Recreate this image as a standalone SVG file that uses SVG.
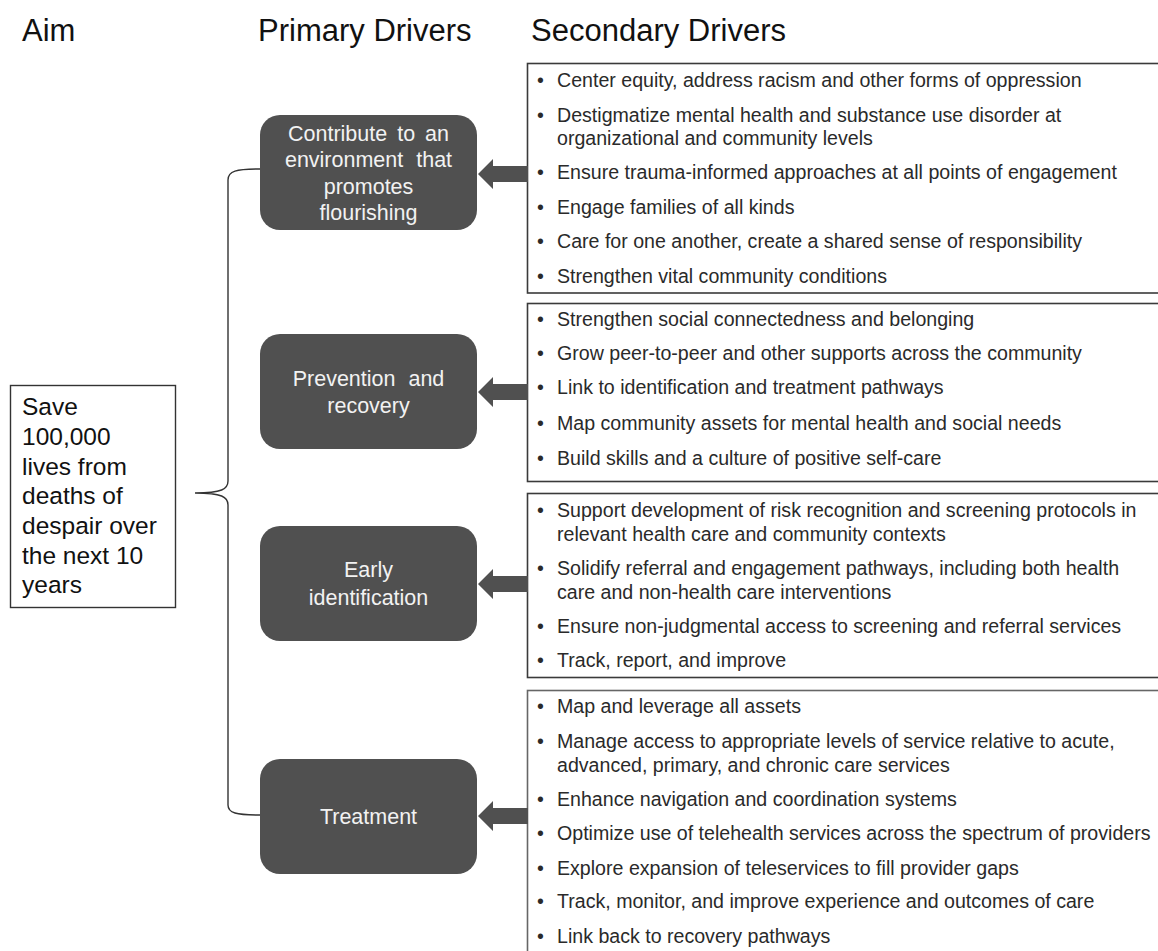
<svg xmlns="http://www.w3.org/2000/svg" width="1158" height="951" viewBox="0 0 1158 951">
  <style>
    .hdr { font-family: "Liberation Sans", Arial, sans-serif; font-size: 31px; fill: #111; }
    .aim { font-family: "Liberation Sans", Arial, sans-serif; font-size: 24.5px; fill: #111; }
    .pd-box { fill: #505050; }
    .pd-txt { font-family: "Liberation Sans", Arial, sans-serif; font-size: 21.5px; fill: #f2f2f2; text-anchor: middle; }
    .sd-box { fill: #fff; stroke: #3a3a3a; stroke-width: 1.6; }
    .sd-txt { font-family: "Liberation Sans", Arial, sans-serif; font-size: 19.6px; fill: #2a2a2a; }
    .bul { font-family: "Liberation Sans", Arial, sans-serif; font-size: 19.6px; fill: #2a2a2a; }
    .arrow { fill: #505050; }
    .brace { fill: none; stroke: #333; stroke-width: 1.4; }
  </style>
  <defs>
    <!-- thick block arrow pointing left, tip at origin -->
    <path id="blockArrow" class="arrow" d="M0,0 L15,-15 L15,-8 L50,-8 L50,8 L15,8 L15,15 Z"/>
  </defs>

  <rect width="1158" height="951" fill="#fff"/>

  <!-- column headers -->
  <g id="headers">
    <text class="hdr" x="22" y="41">Aim</text>
    <text class="hdr" x="258" y="41">Primary Drivers</text>
    <text class="hdr" x="531" y="41">Secondary Drivers</text>
  </g>

  <!-- aim -->
  <g id="aim">
    <rect x="10.5" y="385.5" width="165" height="222" fill="#fff" stroke="#333" stroke-width="1.4"/>
    <text class="aim" x="22" y="415">Save</text>
    <text class="aim" x="22" y="445">100,000</text>
    <text class="aim" x="22" y="475">lives from</text>
    <text class="aim" x="22" y="504">deaths of</text>
    <text class="aim" x="22" y="534">despair over</text>
    <text class="aim" x="22" y="564">the next 10</text>
    <text class="aim" x="22" y="593">years</text>
  </g>

  <!-- primary drivers -->
  <g id="pd-environment">
    <rect class="pd-box" x="260" y="115" width="217" height="115" rx="20"/>
    <text class="pd-txt" x="368.5" y="140.5" word-spacing="4">Contribute to an</text>
    <text class="pd-txt" x="368.5" y="167" word-spacing="7">environment that</text>
    <text class="pd-txt" x="368.5" y="193.5">promotes</text>
    <text class="pd-txt" x="368.5" y="220">flourishing</text>
  </g>
  <g id="pd-prevention">
    <rect class="pd-box" x="260" y="334" width="217" height="115" rx="20"/>
    <text class="pd-txt" x="368.5" y="386" word-spacing="7">Prevention and</text>
    <text class="pd-txt" x="368.5" y="413">recovery</text>
  </g>
  <g id="pd-early">
    <rect class="pd-box" x="260" y="526" width="217" height="115" rx="20"/>
    <text class="pd-txt" x="368.5" y="577">Early</text>
    <text class="pd-txt" x="368.5" y="605">identification</text>
  </g>
  <g id="pd-treatment">
    <rect class="pd-box" x="260" y="759" width="217" height="115" rx="20"/>
    <text class="pd-txt" x="368.5" y="824">Treatment</text>
  </g>

  <!-- secondary drivers -->
  <g id="sd-environment">
    <rect class="sd-box" x="527.5" y="63.5" width="700" height="229.5"/>
    <g class="bul"><text x="537" y="87">•</text><text x="537" y="122">•</text><text x="537" y="179">•</text><text x="537" y="214">•</text><text x="537" y="248">•</text><text x="537" y="283">•</text></g>
    <text class="sd-txt" x="557" y="87">Center equity, address racism and other forms of oppression</text>
    <text class="sd-txt" x="557" y="122">Destigmatize mental health and substance use disorder at</text>
    <text class="sd-txt" x="557" y="145">organizational and community levels</text>
    <text class="sd-txt" x="557" y="179">Ensure trauma-informed approaches at all points of engagement</text>
    <text class="sd-txt" x="557" y="214">Engage families of all kinds</text>
    <text class="sd-txt" x="557" y="248">Care for one another, create a shared sense of responsibility</text>
    <text class="sd-txt" x="557" y="283">Strengthen vital community conditions</text>
  </g>
  <g id="sd-prevention">
    <rect class="sd-box" x="527.5" y="303.5" width="700" height="178"/>
    <g class="bul"><text x="537" y="326">•</text><text x="537" y="360">•</text><text x="537" y="394">•</text><text x="537" y="430">•</text><text x="537" y="465">•</text></g>
    <text class="sd-txt" x="557" y="326">Strengthen social connectedness and belonging</text>
    <text class="sd-txt" x="557" y="360">Grow peer-to-peer and other supports across the community</text>
    <text class="sd-txt" x="557" y="394">Link to identification and treatment pathways</text>
    <text class="sd-txt" x="557" y="430">Map community assets for mental health and social needs</text>
    <text class="sd-txt" x="557" y="465">Build skills and a culture of positive self-care</text>
  </g>
  <g id="sd-early">
    <rect class="sd-box" x="527.5" y="493.5" width="700" height="184"/>
    <g class="bul"><text x="537" y="517">•</text><text x="537" y="575">•</text><text x="537" y="633">•</text><text x="537" y="667">•</text></g>
    <text class="sd-txt" x="557" y="517">Support development of risk recognition and screening protocols in</text>
    <text class="sd-txt" x="557" y="541">relevant health care and community contexts</text>
    <text class="sd-txt" x="557" y="575">Solidify referral and engagement pathways, including both health</text>
    <text class="sd-txt" x="557" y="599">care and non-health care interventions</text>
    <text class="sd-txt" x="557" y="633">Ensure non-judgmental access to screening and referral services</text>
    <text class="sd-txt" x="557" y="667">Track, report, and improve</text>
  </g>
  <g id="sd-treatment">
    <rect class="sd-box" x="527.5" y="690.5" width="700" height="320" style="stroke:#666"/>
    <g class="bul"><text x="537" y="713">•</text><text x="537" y="748">•</text><text x="537" y="806">•</text><text x="537" y="840">•</text><text x="537" y="875">•</text><text x="537" y="908">•</text><text x="537" y="943">•</text></g>
    <text class="sd-txt" x="557" y="713">Map and leverage all assets</text>
    <text class="sd-txt" x="557" y="748">Manage access to appropriate levels of service relative to acute,</text>
    <text class="sd-txt" x="557" y="772">advanced, primary, and chronic care services</text>
    <text class="sd-txt" x="557" y="806">Enhance navigation and coordination systems</text>
    <text class="sd-txt" x="557" y="840">Optimize use of telehealth services across the spectrum of providers</text>
    <text class="sd-txt" x="557" y="875">Explore expansion of teleservices to fill provider gaps</text>
    <text class="sd-txt" x="557" y="908">Track, monitor, and improve experience and outcomes of care</text>
    <text class="sd-txt" x="557" y="943">Link back to recovery pathways</text>
  </g>

  <!-- connectors: aim brace and secondary-to-primary arrows -->
  <g id="connectors">
    <path class="brace" d="M260,169 C236,169 228,171 228,180 L228,481 C228,489 222,493 195,493 C222,493 228,497 228,505 L228,805 C228,813 236,815 260,815"/>
    <use href="#blockArrow" x="478" y="174"/>
    <use href="#blockArrow" x="478" y="392"/>
    <use href="#blockArrow" x="478" y="584"/>
    <use href="#blockArrow" x="478" y="816"/>
  </g>
</svg>
